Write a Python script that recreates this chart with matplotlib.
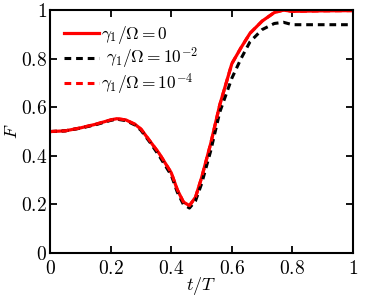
import matplotlib
matplotlib.use("Agg")
import matplotlib.pyplot as plt
from matplotlib.ticker import FuncFormatter

plt.rcParams['font.family'] = ['Liberation Serif', 'DejaVu Serif']
plt.rcParams['mathtext.fontset'] = 'cm'

t_red = [0, 0.05, 0.1, 0.15, 0.2, 0.22, 0.25, 0.28, 0.3, 0.33, 0.36, 0.39, 0.40,
         0.42, 0.44, 0.46, 0.48, 0.50, 0.53, 0.56, 0.60, 0.63, 0.66, 0.70, 0.74,
         0.77, 0.80, 0.85, 0.9, 1.0]
F_red = [0.50, 0.503, 0.515, 0.53, 0.548, 0.553, 0.548, 0.53, 0.51, 0.46, 0.41,
         0.35, 0.33, 0.26, 0.21, 0.195, 0.23, 0.31, 0.45, 0.61, 0.78, 0.845,
         0.905, 0.955, 0.99, 1.0, 0.995, 0.996, 0.997, 0.998]

t_blk = [0, 0.05, 0.1, 0.15, 0.2, 0.22, 0.25, 0.28, 0.3, 0.33, 0.36, 0.39, 0.40,
         0.42, 0.44, 0.46, 0.48, 0.50, 0.53, 0.56, 0.60, 0.63, 0.66, 0.70, 0.74,
         0.77, 0.80, 0.85, 0.9, 1.0]
F_blk = [0.50, 0.503, 0.514, 0.528, 0.546, 0.551, 0.545, 0.527, 0.505, 0.455,
         0.40, 0.34, 0.32, 0.25, 0.20, 0.185, 0.215, 0.285, 0.42, 0.58, 0.72,
         0.80, 0.87, 0.92, 0.945, 0.95, 0.94, 0.94, 0.94, 0.94]

t_red2 = t_red
F_red2 = F_red

labels = [r'$\gamma_1/\Omega = 0$', r'$\ \gamma_1/\Omega = 10^{-2}$', r'$\gamma_1/\Omega = 10^{-4}$']
ticks = [0, 0.2, 0.4, 0.6, 0.8, 1]

fig = plt.figure(figsize=(3.74, 2.98), dpi=100)
ax = fig.add_axes([0.134, 0.151, 0.810, 0.815])
ax.plot(t_red, F_red, color='red', lw=2.3, label=labels[0])
ax.plot(t_blk, F_blk, color='black', lw=2.2, ls=(0, (2.2, 1.6)), label=labels[1])
ax.plot(t_red2, F_red2, color='red', lw=2.2, ls=(0, (2.2, 1.6)), label=labels[2])

ax.set_xlim(0, 1)
ax.set_ylim(0, 1)
ax.set_xticks(ticks)
ax.set_yticks(ticks)
fmt = FuncFormatter(lambda v, p: ('$%g$' % v))
ax.xaxis.set_major_formatter(fmt)
ax.yaxis.set_major_formatter(fmt)
ax.tick_params(direction='in', length=5, width=1.3, labelsize=14, top=True, right=True)
ax.tick_params(axis='x', pad=5)
ax.tick_params(axis='y', pad=2)
for s in ax.spines.values():
    s.set_linewidth(1.5)
ax.set_xlabel(r'$t/T$', fontsize=13, labelpad=-2)
ax.set_ylabel(r'$F$', fontsize=13, labelpad=0)
ax.legend(loc='upper left', frameon=False, fontsize=12.5, handlelength=2.0,
          handletextpad=0.15, borderaxespad=0.3, labelspacing=0.0,
          borderpad=0.5)
fig.savefig('out.png', dpi=100)
